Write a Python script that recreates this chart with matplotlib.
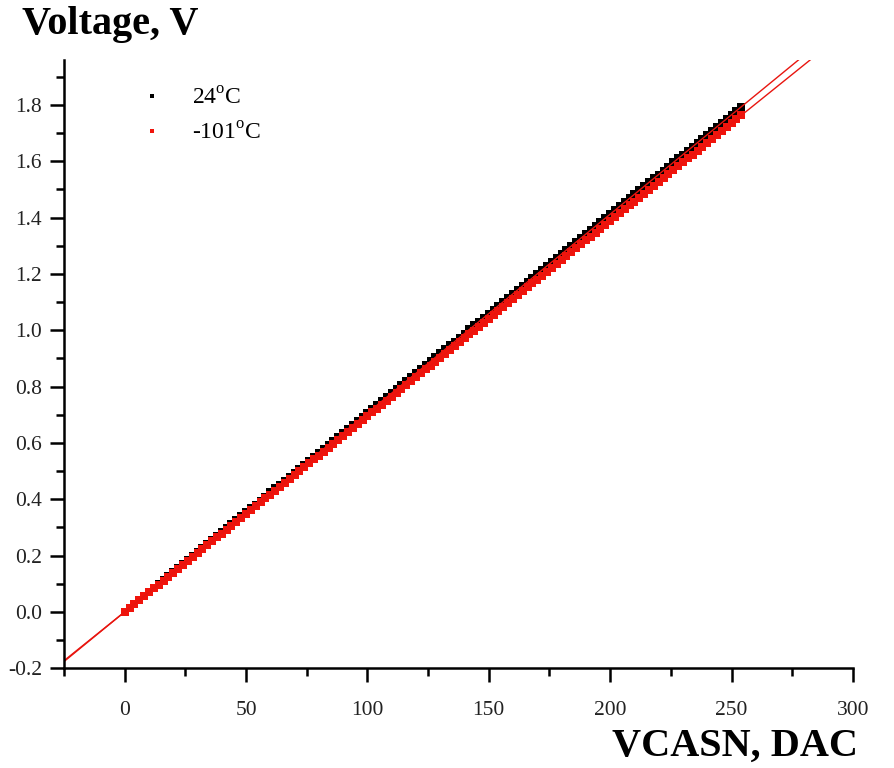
import numpy as np
import matplotlib
matplotlib.use("Agg")
from matplotlib import pyplot as plt

plt.rcParams['font.family'] = ['Liberation Serif', 'DejaVu Serif']
plt.rcParams['mathtext.fontset'] = 'custom'
plt.rcParams['mathtext.rm'] = 'Liberation Serif'

# DAC codes (every second code)
dac = list(range(0, 255, 2))

# measured voltage at 24 C
v_24 = [0.000, 0.014, 0.028, 0.042, 0.056, 0.071, 0.085, 0.099, 0.113, 0.127,
        0.141, 0.155, 0.169, 0.184, 0.198, 0.212, 0.226, 0.240, 0.254, 0.268,
        0.282, 0.297, 0.311, 0.325, 0.339, 0.353, 0.367, 0.381, 0.395, 0.409,
        0.424, 0.438, 0.452, 0.466, 0.480, 0.494, 0.508, 0.522, 0.537, 0.551,
        0.565, 0.579, 0.593, 0.607, 0.621, 0.635, 0.650, 0.664, 0.678, 0.692,
        0.706, 0.720, 0.734, 0.748, 0.762, 0.777, 0.791, 0.805, 0.819, 0.833,
        0.847, 0.861, 0.875, 0.890, 0.904, 0.918, 0.932, 0.946, 0.960, 0.974,
        0.988, 1.003, 1.017, 1.031, 1.045, 1.059, 1.073, 1.087, 1.101, 1.115,
        1.130, 1.144, 1.158, 1.172, 1.186, 1.200, 1.214, 1.228, 1.243, 1.257,
        1.271, 1.285, 1.299, 1.313, 1.327, 1.341, 1.356, 1.370, 1.384, 1.398,
        1.412, 1.426, 1.440, 1.454, 1.468, 1.483, 1.497, 1.511, 1.525, 1.539,
        1.553, 1.567, 1.581, 1.596, 1.610, 1.624, 1.638, 1.652, 1.666, 1.680,
        1.694, 1.709, 1.723, 1.737, 1.751, 1.765, 1.779, 1.793]

# measured voltage at -101 C
v_m101 = [0.000, 0.014, 0.028, 0.042, 0.056, 0.069, 0.083, 0.097, 0.111, 0.125,
          0.139, 0.153, 0.167, 0.180, 0.194, 0.208, 0.222, 0.236, 0.250, 0.264,
          0.278, 0.291, 0.305, 0.319, 0.333, 0.347, 0.361, 0.375, 0.389, 0.403,
          0.416, 0.430, 0.444, 0.458, 0.472, 0.486, 0.500, 0.514, 0.527, 0.541,
          0.555, 0.569, 0.583, 0.597, 0.611, 0.625, 0.638, 0.652, 0.666, 0.680,
          0.694, 0.708, 0.722, 0.736, 0.750, 0.763, 0.777, 0.791, 0.805, 0.819,
          0.833, 0.847, 0.861, 0.874, 0.888, 0.902, 0.916, 0.930, 0.944, 0.958,
          0.972, 0.985, 0.999, 1.013, 1.027, 1.041, 1.055, 1.069, 1.083, 1.097,
          1.110, 1.124, 1.138, 1.152, 1.166, 1.180, 1.194, 1.208, 1.221, 1.235,
          1.249, 1.263, 1.277, 1.291, 1.305, 1.319, 1.332, 1.346, 1.360, 1.374,
          1.388, 1.402, 1.416, 1.430, 1.444, 1.457, 1.471, 1.485, 1.499, 1.513,
          1.527, 1.541, 1.555, 1.568, 1.582, 1.596, 1.610, 1.624, 1.638, 1.652,
          1.666, 1.679, 1.693, 1.707, 1.721, 1.735, 1.749, 1.763]

labels = ['24$^{\\rm o}$C', '-101$^{\\rm o}$C']
colors = ['black', '#f0140c']

x_ticks = [0, 50, 100, 150, 200, 250, 300]
y_ticks = [-0.2, 0.0, 0.2, 0.4, 0.6, 0.8, 1.0, 1.2, 1.4, 1.6, 1.8]

fig = plt.figure(figsize=(8.94, 7.68), dpi=100)
ax = fig.add_axes([0.0716, 0.130, 0.8824, 0.792])

handles = []
for v, c, lab in zip([v_24, v_m101], colors, labels):
    ax.plot(dac, v, ls='none', marker='s', ms=5.2, mew=0, color=c)
    # small marker for the legend entry
    h, = ax.plot([], [], ls='none', marker='s', ms=3.5, mew=0, color=c, label=lab)
    handles.append(h)

# linear fits, drawn in red over the whole range
xfit = np.array([-25, 300])
for v in [v_24, v_m101]:
    k, b = np.polyfit(dac, v, 1)
    ax.plot(xfit, k * xfit + b, color='#e8150f', lw=1.0)

ax.set_xlim(-25, 300)
ax.set_ylim(-0.2, 1.96)
ax.set_xticks(x_ticks)
ax.set_xticks(np.arange(-25, 301, 25), minor=True)
ax.set_yticks(y_ticks)
ax.set_yticks(np.arange(-0.2, 1.95, 0.1), minor=True)
ax.set_yticklabels(['%.1f' % t for t in y_ticks])

for s in ['top', 'right']:
    ax.spines[s].set_visible(False)
for s in ['left', 'bottom']:
    ax.spines[s].set_linewidth(1.8)

ax.tick_params(which='major', direction='out', length=10, width=1.8, labelsize=15.5,
               pad=6, labelcolor='#222222')
ax.tick_params(axis='x', which='major', pad=14)
ax.tick_params(which='minor', direction='out', length=5.5, width=1.8)

leg = ax.legend(handles=handles, loc='upper left', bbox_to_anchor=(0.07, 0.99),
                frameon=False, fontsize=17, handlelength=1.0, handletextpad=1.2,
                labelspacing=0.55, numpoints=1)

fig.text(0.025, 0.968, 'Voltage, V', fontsize=29, fontweight='bold', va='center', ha='left')
fig.text(0.96, 0.028, 'VCASN, DAC', fontsize=29, fontweight='bold', va='center', ha='right')

fig.savefig('out.png', dpi=100)
